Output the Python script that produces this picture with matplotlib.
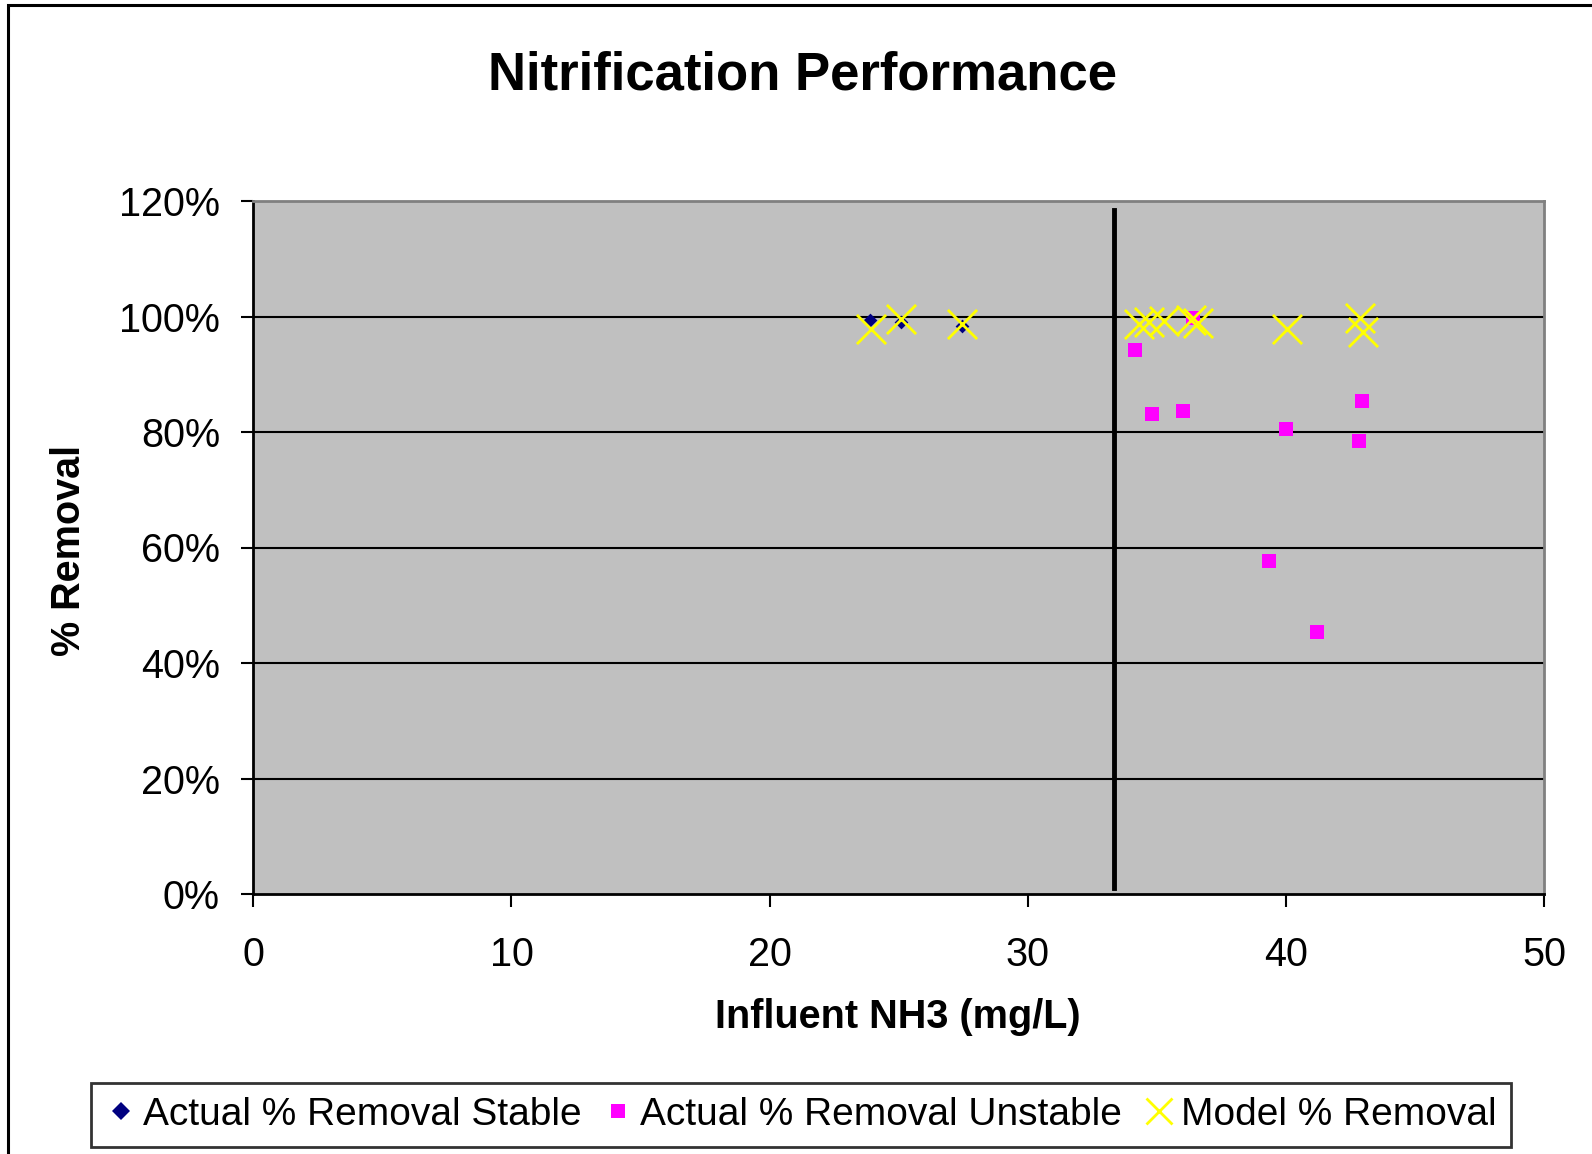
import matplotlib.pyplot as plt
from matplotlib.lines import Line2D
from matplotlib.patches import Rectangle
from matplotlib.ticker import PercentFormatter

plt.rcParams["font.family"] = ["Liberation Sans", "DejaVu Sans"]

# influent NH3 (mg/L) and fractional removal
stable_x = [23.9, 25.1, 27.45]
stable_y = [0.994, 0.991, 0.983]

unstable_x = [34.14, 34.83, 36.0, 36.39, 39.33, 40.01, 41.19, 42.84, 42.94]
unstable_y = [0.942, 0.831, 0.836, 0.997, 0.577, 0.806, 0.453, 0.785, 0.853]

model_x = [23.92, 25.09, 27.45, 34.31, 34.70, 35.28, 36.32, 36.58, 40.05, 42.89, 43.0]
model_y = [0.978, 0.995, 0.987, 0.987, 0.991, 0.992, 0.994, 0.988, 0.979, 0.997, 0.974]

# vertical divider drawn on the chart
divider_x = 33.35
divider_y = [0.01, 1.185]

W, H = 1592, 1154
fig = plt.figure(figsize=(W / 100, H / 100), dpi=100)
ax = fig.add_axes([253.3 / W, 1 - 894 / H, (1544 - 253.3) / W, (894 - 201) / H])
ax.set_facecolor("#C0C0C0")

for y in [0.2, 0.4, 0.6, 0.8, 1.0]:
    ax.axhline(y, color="black", lw=1.5, zorder=1)

ax.plot([divider_x, divider_x], divider_y, color="black", lw=3.5, zorder=2)

ax.scatter(stable_x, stable_y, marker="D", s=7 ** 2, color="#000080", zorder=3, linewidths=0)
ax.scatter(unstable_x, unstable_y, marker="s", s=10.5 ** 2, color="#FF00FF", zorder=3, linewidths=0)
ax.scatter(model_x, model_y, marker="x", s=21 ** 2, color="#FFFF00", zorder=4, linewidths=2)

ax.set_xlim(0, 50)
ax.set_ylim(0, 1.2)
ax.set_xticks(range(0, 51, 10))
ax.set_yticks([0, 0.2, 0.4, 0.6, 0.8, 1.0, 1.2])
ax.yaxis.set_major_formatter(PercentFormatter(1.0, decimals=0))
ax.tick_params(direction="out", length=9, width=1.5, labelsize=28.5, colors="black")
ax.tick_params(axis="y", pad=15)
ax.tick_params(axis="x", pad=21)

for side in ["left", "bottom"]:
    ax.spines[side].set_color("black")
    ax.spines[side].set_linewidth(2)
for side in ["top", "right"]:
    ax.spines[side].set_color("#808080")
    ax.spines[side].set_linewidth(2)

fig.text(802 / W, 1 - 75 / H, "Nitrification Performance", ha="center", va="center",
         fontsize=38, fontweight="bold")
fig.text(898 / W, 1 - 1017 / H, "Influent NH3 (mg/L)", ha="center", va="center",
         fontsize=28.5, fontweight="bold")
fig.text(69 / W, 1 - 551 / H, "% Removal", ha="center", va="center", rotation=90,
         fontsize=28.5, fontweight="bold")

handles = [
    Line2D([], [], ls="", marker="D", ms=9, color="#000080", mew=0),
    Line2D([], [], ls="", marker="s", ms=10, color="#FF00FF", mew=0),
    Line2D([], [], ls="", marker="x", ms=19, color="#FFFF00", mew=2),
]
labels = ["Actual % Removal Stable", "Actual % Removal Unstable", "Model % Removal"]
leg = fig.legend(handles, labels, loc="center", bbox_to_anchor=(801 / W, 1 - 1115 / H),
                 ncol=3, fontsize=28, frameon=True, fancybox=False, edgecolor="black",
                 handlelength=0.8, handletextpad=0.17, columnspacing=0.55,
                 borderpad=0.35, borderaxespad=0)
leg.get_frame().set_linewidth(2)

fig.patches.append(Rectangle((8 / W, -0.1), 2, 1.1 - 5 / H, transform=fig.transFigure,
                             fill=False, edgecolor="black", lw=2.2))

fig.savefig("out.png", dpi=100)
